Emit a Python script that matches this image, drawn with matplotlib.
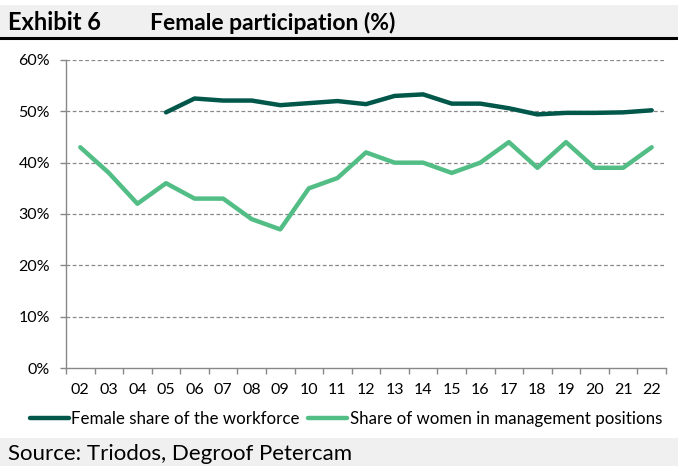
import numpy as np
import matplotlib
matplotlib.use('Agg')
import matplotlib.pyplot as plt
from matplotlib.patches import Rectangle
from matplotlib.lines import Line2D
from matplotlib.ticker import FuncFormatter

plt.rcParams['font.family'] = ['Lato', 'DejaVu Sans']

# Dados
years = ['02', '03', '04', '05', '06', '07', '08', '09', '10', '11', '12',
         '13', '14', '15', '16', '17', '18', '19', '20', '21', '22']
workforce = [np.nan, np.nan, np.nan, 49.8, 52.5, 52.1, 52.1, 51.2, 51.6, 52.0, 51.4,
             53.0, 53.3, 51.5, 51.5, 50.6, 49.4, 49.7, 49.7, 49.8, 50.2]
management = [43, 38, 32, 36, 33, 33, 29, 27, 35, 37, 42,
              40, 40, 38, 40, 44, 39, 44, 39, 39, 43]
y_ticks = [0, 10, 20, 30, 40, 50, 60]

dark_green = '#00574A'
light_green = '#52BE86'
W, H = 678, 466

fig = plt.figure(figsize=(W / 100, H / 100), dpi=100)

# Barra do título e barra da fonte
fig.patches.append(Rectangle((0, 1 - 37 / H), 1, 32 / H, transform=fig.transFigure,
                             facecolor='#F0F0F0', edgecolor='none', zorder=0))
fig.add_artist(Line2D([0, 1], [1 - 38 / H, 1 - 38 / H], transform=fig.transFigure,
                      color='black', lw=2.2))
fig.patches.append(Rectangle((0, 0), 1, 28 / H, transform=fig.transFigure,
                             facecolor='#F0F0F0', edgecolor='none', zorder=0))

fig.text(8 / W, 1 - 30 / H, 'Exhibit 6', fontsize=17, fontweight='bold', va='baseline')
fig.text(150 / W, 1 - 30 / H, 'Female participation (%)', fontsize=16.5, fontweight='bold',
         va='baseline')
fig.text(8 / W, 1 - 460 / H, 'Source: Triodos, Degroof Petercam', fontsize=16,
         va='baseline')

# Gráfico
ax = fig.add_axes([66 / W, 1 - 368 / H, 600 / W, 308 / H])
x = np.arange(len(years))
ax.plot(x, workforce, color=dark_green, lw=3.2, solid_capstyle='round',
        label='Female share of the workforce')
ax.plot(x, management, color=light_green, lw=3.2, solid_capstyle='round',
        label='Share of women in management positions')

ax.set_xlim(-0.5, len(years) - 0.5)
ax.set_ylim(0, 60)
ax.set_yticks(y_ticks)
ax.yaxis.set_major_formatter(FuncFormatter(lambda v, p: f'{int(v)}%'))
ax.set_xticks(x)
ax.set_xticklabels(years)
ax.set_xticks(np.arange(-0.5, len(years)), minor=True)
ax.tick_params(axis='x', which='major', length=0, pad=11, labelsize=11.5)
ax.tick_params(axis='x', which='minor', length=4.5, color='#888888', width=1)
ax.tick_params(axis='y', length=4.5, color='#888888', width=1, pad=7, labelsize=11.5)

for v in y_ticks[1:]:
    ax.axhline(v, color='#888888', lw=0.9, ls=(0, (3, 2)), zorder=0)

for s in ['top', 'right']:
    ax.spines[s].set_visible(False)
for s in ['left', 'bottom']:
    ax.spines[s].set_color('#888888')
    ax.spines[s].set_linewidth(1)

leg = fig.legend(loc='center', bbox_to_anchor=(346 / W, 1 - 419 / H), ncol=2,
                 frameon=False, fontsize=12.2, handlelength=2.3, handletextpad=0.15,
                 columnspacing=0.5)

plt.savefig('out.png', dpi=100)
